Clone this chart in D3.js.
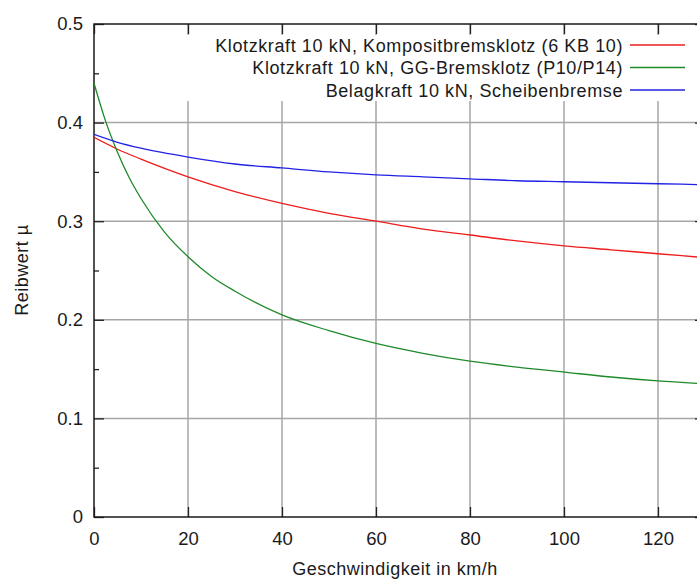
<!DOCTYPE html>
<html>
<head>
<meta charset="utf-8">
<script src="https://cdn.jsdelivr.net/npm/d3@7"></script>
<style>
  body { margin: 0; background: #fff; }
  svg { display: block; overflow: hidden; }
  text { font-family: "Liberation Sans", Arial, sans-serif; fill: #1a1a1a; }
</style>
</head>
<body>
<div id="chart"></div>
<script>
// speeds in km/h
var speedsGG = [0, 2.5, 5, 7.5, 10, 15, 20, 25, 30, 40, 50, 60, 70, 80, 90, 100, 110, 120, 130];
var muGG = [0.440, 0.401, 0.370, 0.344, 0.323, 0.289, 0.264, 0.244, 0.229, 0.205, 0.189, 0.176, 0.166, 0.158, 0.152, 0.147, 0.142, 0.138, 0.135];

var speeds = [0, 5, 10, 20, 30, 40, 50, 60, 70, 80, 90, 100, 110, 120, 130];
var muKomposit = [0.385, 0.373, 0.363, 0.345, 0.330, 0.318, 0.308, 0.300, 0.292, 0.286, 0.280, 0.275, 0.271, 0.267, 0.263];
var muScheibe = [0.388, 0.380, 0.374, 0.365, 0.358, 0.354, 0.350, 0.347, 0.345, 0.343, 0.341, 0.340, 0.339, 0.338, 0.337];

var xTicks = [0, 20, 40, 60, 80, 100, 120];
var yTicks = [0, 0.1, 0.2, 0.3, 0.4, 0.5];
var yMinorTicks = [0.05, 0.15, 0.25, 0.35, 0.45];

var series = [
    {name: "Klotzkraft 10 kN, Kompositbremsklotz (6 KB 10)", x: speeds, y: muKomposit, color: "#ee1c1c"},
    {name: "Klotzkraft 10 kN, GG-Bremsklotz (P10/P14)", x: speedsGG, y: muGG, color: "#1f8a2a"},
    {name: "Belagkraft 10 kN, Scheibenbremse", x: speeds, y: muScheibe, color: "#2222e6"}
];

var W = 697, H = 579;
var plotLeft = 94, plotTop = 24, plotRight = 705, plotBottom = 517;

var svg = d3.select("#chart")
    .append("svg")
    .attr("width", W)
    .attr("height", H);

var x = d3.scaleLinear().domain([0, 130]).range([plotLeft, plotRight]);
var y = d3.scaleLinear().domain([0, 0.5]).range([plotBottom, plotTop]);

// grid
var grid = svg.append("g").attr("stroke", "#a6a6a6").attr("stroke-width", 1.5);
grid.selectAll("line.gx")
    .data(xTicks.slice(1))
    .enter().append("line")
    .attr("x1", function (d) { return x(d); })
    .attr("x2", function (d) { return x(d); })
    .attr("y1", plotTop).attr("y2", plotBottom);
grid.selectAll("line.gy")
    .data(yTicks.slice(1, -1))
    .enter().append("line")
    .attr("y1", function (d) { return y(d); })
    .attr("y2", function (d) { return y(d); })
    .attr("x1", plotLeft).attr("x2", plotRight);

// key area blanks the grid
svg.append("rect")
    .attr("x", 178).attr("y", 35)
    .attr("width", W - 178).attr("height", 66)
    .attr("fill", "#fff");

// axes (ticks point inward)
function styleAxis(g) {
    g.select(".domain").remove();
    g.selectAll(".tick line").attr("stroke", "#222").attr("stroke-width", 1.3);
    g.selectAll(".tick text").style("font-size", "18.5px").attr("fill", "#1a1a1a");
}

svg.append("g")
    .attr("transform", "translate(0," + plotBottom + ")")
    .call(d3.axisBottom(x).tickValues(xTicks).tickSize(-10).tickPadding(15).tickFormat(d3.format("d")))
    .call(styleAxis);

svg.append("g")
    .attr("transform", "translate(0," + plotTop + ")")
    .call(d3.axisTop(x).tickValues(xTicks).tickSize(-10).tickFormat(""))
    .call(styleAxis);

svg.append("g")
    .attr("transform", "translate(" + plotLeft + ",0)")
    .call(d3.axisLeft(y).tickValues(yTicks).tickSize(-10).tickPadding(11)
        .tickFormat(function (d) { return d === 0 ? "0" : d3.format(".1f")(d); }))
    .call(styleAxis);

svg.append("g")
    .attr("transform", "translate(" + plotLeft + ",0)")
    .call(d3.axisLeft(y).tickValues(yMinorTicks).tickSize(-5).tickFormat(""))
    .call(styleAxis);

svg.append("g")
    .attr("transform", "translate(" + plotRight + ",0)")
    .call(d3.axisRight(y).tickValues(yTicks).tickSize(-10).tickFormat(""))
    .call(styleAxis);

svg.append("g")
    .attr("transform", "translate(" + plotRight + ",0)")
    .call(d3.axisRight(y).tickValues(yMinorTicks).tickSize(-5).tickFormat(""))
    .call(styleAxis);

// border
svg.append("rect")
    .attr("x", plotLeft).attr("y", plotTop)
    .attr("width", plotRight - plotLeft).attr("height", plotBottom - plotTop)
    .attr("fill", "none")
    .attr("stroke", "#1a1a1a")
    .attr("stroke-width", 1.5);

// curves
svg.append("clipPath").attr("id", "plot")
    .append("rect")
    .attr("x", plotLeft).attr("y", plotTop)
    .attr("width", plotRight - plotLeft).attr("height", plotBottom - plotTop);

var line = d3.line()
    .x(function (d) { return x(d[0]); })
    .y(function (d) { return y(d[1]); })
    .curve(d3.curveMonotoneX);

svg.append("g")
    .attr("clip-path", "url(#plot)")
    .selectAll("path")
    .data(series)
    .enter().append("path")
    .attr("d", function (s) { return line(d3.zip(s.x, s.y)); })
    .attr("fill", "none")
    .attr("stroke", function (s) { return s.color; })
    .attr("stroke-width", 1.3);

// key
var key = svg.append("g");
series.forEach(function (s, i) {
    var ky = 45 + i * 22.5;
    key.append("text")
        .attr("x", 623).attr("y", ky + 6.5)
        .attr("text-anchor", "end")
        .style("font-size", "18px")
        .style("letter-spacing", "0.6px")
        .text(s.name);
    key.append("line")
        .attr("x1", 630).attr("x2", 685)
        .attr("y1", ky).attr("y2", ky)
        .attr("stroke", s.color)
        .attr("stroke-width", 1.3);
});

// axis titles
svg.append("text")
    .attr("x", 395).attr("y", 575)
    .attr("text-anchor", "middle")
    .style("font-size", "18px")
    .style("letter-spacing", "0.5px")
    .text("Geschwindigkeit in km/h");

svg.append("text")
    .attr("transform", "translate(28,270) rotate(-90)")
    .attr("text-anchor", "middle")
    .style("font-size", "18px")
    .style("letter-spacing", "0.5px")
    .text("Reibwert µ");
</script>
</body>
</html>
